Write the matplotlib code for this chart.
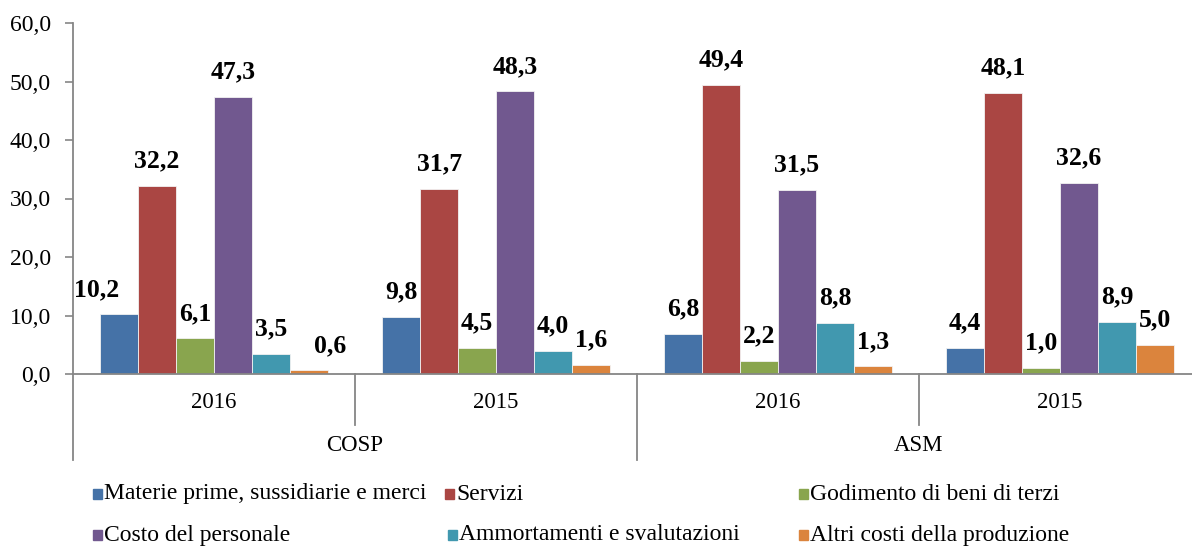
import numpy as np
import matplotlib
matplotlib.use("Agg")
import matplotlib.pyplot as plt
from matplotlib.patches import Rectangle
from matplotlib.ticker import FuncFormatter

plt.rcParams["font.family"] = ["Liberation Serif", "DejaVu Serif"]

# data
years = ["2016", "2015", "2016", "2015"]
groups = ["COSP", "ASM"]
series = [
    "Materie prime, sussidiarie e merci",
    "Servizi",
    "Godimento di beni di terzi",
    "Costo del personale",
    "Ammortamenti e svalutazioni",
    "Altri costi della produzione",
]
materie = [10.2, 9.8, 6.8, 4.4]
servizi = [32.2, 31.7, 49.4, 48.1]
godimento = [6.1, 4.5, 2.2, 1.0]
personale = [47.3, 48.3, 31.5, 32.6]
ammortamenti = [3.5, 4.0, 8.8, 8.9]
altri = [0.6, 1.6, 1.3, 5.0]
values = [materie, servizi, godimento, personale, ammortamenti, altri]

colors = ["#4572A7", "#AA4643", "#89A54E", "#71588F", "#4198AF", "#DB843D"]
GRAY = "#868686"
FS = 16.5

# label nudges (in bar widths) for the few labels moved by hand in the original
label_dx = {(0, 0): -0.6, (5, 0): 0.55}

W, H = 1192, 547
fig = plt.figure(figsize=(W / 100, H / 100), dpi=100)
ax = fig.add_axes([73 / W, 1 - 374 / H, (1201 - 73) / W, (374 - 23) / H])

bw = 0.1345
x = np.arange(len(years)) + 0.5
for i, (vals, c) in enumerate(zip(values, colors)):
    pos = x + (i - 2.5) * bw
    ax.bar(pos, vals, width=bw, color=c, edgecolor="#f2f2f2", linewidth=0.6, zorder=2)
    for j, v in enumerate(vals):
        dx = label_dx.get((i, j), 0) * bw
        ax.annotate(f"{v:.1f}".replace(".", ","), (pos[j] + dx, v),
                    xytext=(0, 25), textcoords="offset pixels",
                    ha="center", va="center", fontsize=18.5, fontweight="bold")

ax.set_xlim(0, 4)
ax.set_ylim(0, 60)
ax.set_yticks(np.arange(0, 61, 10))
ax.yaxis.set_major_formatter(FuncFormatter(lambda v, p: f"{v:.1f}".replace(".", ",")))
ax.tick_params(axis="y", length=6, width=1.2, color=GRAY, labelsize=FS + 0.5, pad=10)
ax.set_xticks([])
for s in ["top", "right"]:
    ax.spines[s].set_visible(False)
for s in ["left", "bottom"]:
    ax.spines[s].set_color(GRAY)
    ax.spines[s].set_linewidth(1.3)

# category axis: years and groups
tr = ax.get_xaxis_transform()
for xb in range(5):
    yb = -0.245 if xb % 2 == 0 else -0.145
    ax.plot([xb, xb], [0, yb], color=GRAY, lw=1.3, transform=tr, clip_on=False)
for xi, yr in zip(x, years):
    ax.text(xi, -0.08, yr, transform=tr, ha="center", va="center", fontsize=FS)
for g, name in enumerate(groups):
    ax.text(2 * g + 1, -0.203, name, transform=tr, ha="center", va="center", fontsize=FS)

# legend laid out like the original (two rows, three columns)
leg_x = [93, 445, 799, 93, 448, 799]
leg_y = [494, 494, 494, 535, 535, 535]
for name, c, lx, ly in zip(series, colors, leg_x, leg_y):
    fig.add_artist(Rectangle((lx / W, 1 - (ly + 5) / H), 9 / W, 10 / H,
                             transform=fig.transFigure, color=c))
    fig.text((lx + 11) / W, 1 - ly / H, name, ha="left", va="center", fontsize=17)

fig.savefig("out.png", dpi=100)
